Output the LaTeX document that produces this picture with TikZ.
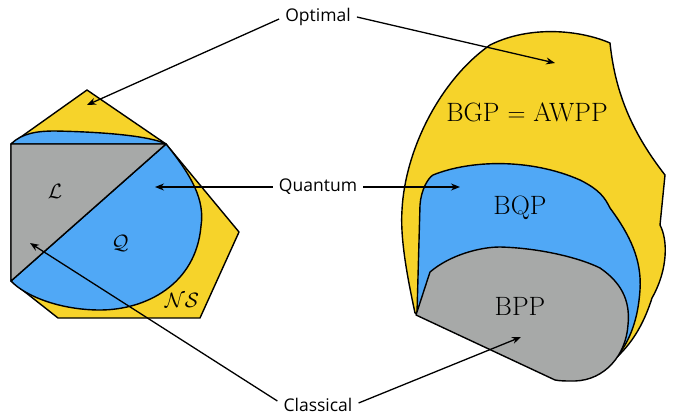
\documentclass[tikz,border=0pt]{standalone}
\usepackage{fontspec}
\setsansfont{Open Sans}
\usetikzlibrary{arrows.meta}
\definecolor{nsyel}{RGB}{246,211,42}
\definecolor{qblue}{RGB}{80,168,246}
\definecolor{lgray}{RGB}{167,169,168}
\tikzset{
  region/.style={draw=black,line width=1.4pt,line join=round},
  lab/.style={font=\sffamily\fontsize{17.5}{19}\selectfont,inner sep=2pt},
  arr/.style={-{Stealth[length=9pt,width=7pt]},line width=1.3pt},
  cls/.style={font=\fontsize{26.5}{30}\selectfont},
  cal/.style={font=\fontsize{22}{24}\selectfont}
}
\begin{document}
\begin{tikzpicture}[x=1pt,y=-1pt]
\useasboundingbox (0,0) rectangle (673,415);
% ---------- left figure ----------
\filldraw[region,fill=nsyel] (87,90) -- (166,144) -- (239,232) -- (200,318) -- (58,318) -- (11,281) -- (11,144) -- cycle;
\filldraw[region,fill=qblue] (166,144) .. controls (192,176) and (205,200) .. (201,226)
  .. controls (196,285) and (145,310) .. (100,310)
  .. controls (60,310) and (25,296) .. (11,281) -- cycle;
\filldraw[region,fill=qblue] (11,144) .. controls (22,133) and (38,131) .. (55,131)
  .. controls (105,132) and (150,136) .. (166,144) -- cycle;
\filldraw[region,fill=lgray] (11,144) -- (166,144) -- (11,281) -- cycle;
\node[cal] (L) at (55,191) {$\mathcal{L}$};
\node[cal] (Q) at (120,243) {$\mathcal{Q}$};
\node[cal] (NS) at (182,300) {$\mathcal{NS}$};
% ---------- right figure ----------
\filldraw[region,fill=nsyel] (415,313) .. controls (408,280) and (400,240) .. (402,210)
  .. controls (405,150) and (440,80) .. (490,45)
  .. controls (530,25) and (580,30) .. (610,43)
  .. controls (615,90) and (630,130) .. (665,175)
  -- (660,225) .. controls (668,240) and (668,270) .. (652,298)
  .. controls (645,320) and (635,340) .. (617,357) -- cycle;
\filldraw[region,fill=qblue] (417,313) -- (420,205) .. controls (421,190) and (428,178) .. (433,175)
  .. controls (470,160) and (530,158) .. (580,180)
  .. controls (600,190) and (605,198) .. (610,208)
  .. controls (630,235) and (642,260) .. (640,290)
  .. controls (638,320) and (630,340) .. (617,357) -- cycle;
\filldraw[region,fill=lgray] (416,315) -- (430,272)
  .. controls (450,255) and (480,247) .. (500,247)
  .. controls (540,248) and (580,258) .. (600,268)
  .. controls (625,285) and (630,305) .. (628,325)
  .. controls (626,355) and (605,380) .. (575,381)
  .. controls (565,381) and (560,381) .. (555,380) -- cycle;
\node[cls] (BGP) at (527,112) {BGP $=$ AWPP};
\node[cls] (BQP) at (520,208) {BQP};
\node[cls] (BPP) at (520,306) {BPP};
% ---------- labels & arrows ----------
\node[lab] (opt) at (318,17) {Optimal};
\node[lab] (qua) at (318,187) {Quantum};
\node[lab] (cla) at (318,405) {Classical};
\coordinate (o1) at (87,105);
\coordinate (o2) at (555,63);
\coordinate (q1) at (155,187);
\coordinate (q2) at (460,187);
\coordinate (c1) at (30,243);
\coordinate (c2) at (521,337);
\draw[arr] (opt.west) ++(-4,2) -- (o1);
\draw[arr] (opt.east) ++(4,0) -- (o2);
\draw[arr] (qua.west) ++(-4,0) -- (q1);
\draw[arr] (qua.east) ++(4,0) -- (q2);
\draw[arr] (cla.west) ++(-4,-4) -- (c1);
\draw[arr] (cla.east) ++(4,-2) -- (c2);
\end{tikzpicture}
\end{document}
